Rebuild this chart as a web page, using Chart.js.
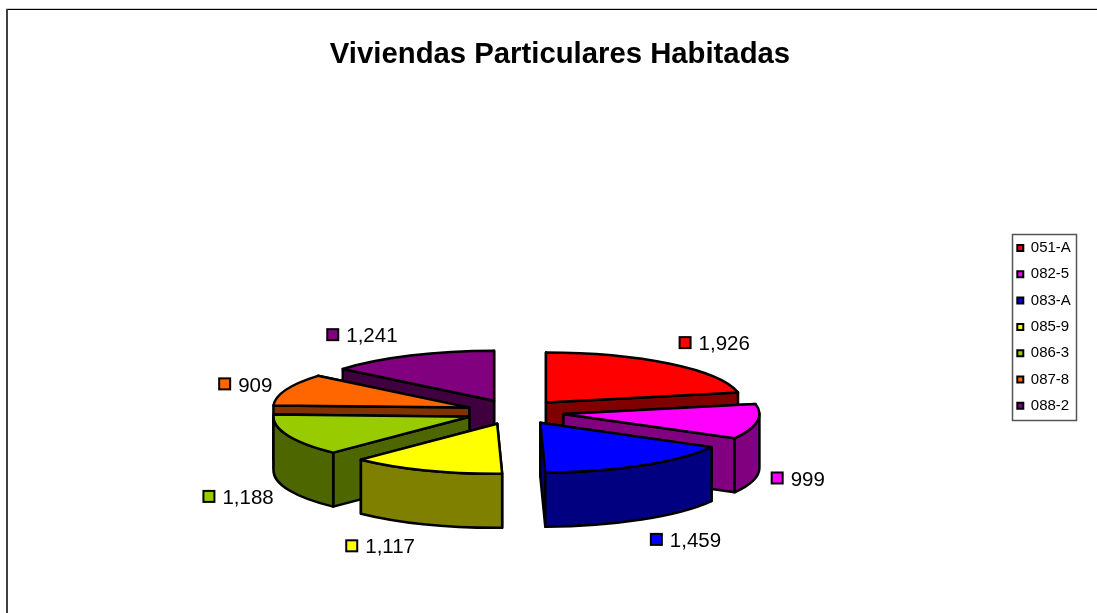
<!DOCTYPE html>
<html><head><meta charset="utf-8">
<style>html,body{margin:0;padding:0;background:#fff}canvas{display:block}</style>
<script src="https://cdn.jsdelivr.net/npm/chart.js@4"></script>
</head><body>
<canvas id="c" width="1097" height="613"></canvas>
<script>
const chartTitle = 'Viviendas Particulares Habitadas';
const categories = ['051-A','082-5','083-A','085-9','086-3','087-8','088-2'];
const values = [1926,999,1459,1117,1188,909,1241];
const topColors = ['#FF0000','#FF00FF','#0000FF','#FFFF00','#99CC00','#FF6600','#800080'];
const sideColors = ['#800000','#800080','#000080','#808000','#4D6600','#803300','#400040'];
// small per-label layout corrections, in pixels
const labelNudgeX = [0,0,1,-6,-1,-1,-7];
const labelNudgeY = [-3,0,2,2,0,3,0];

const RADIUS = 196, SQUASH = 50/196, DEPTH = 54, EXPLODE = 49;
const FONT = '"Liberation Sans", Arial, sans-serif';

function face(ctx, pts, color){
  ctx.beginPath();
  pts.forEach((p,i)=> i?ctx.lineTo(p[0],p[1]):ctx.moveTo(p[0],p[1]));
  ctx.closePath();
  ctx.fillStyle=color; ctx.fill(); ctx.stroke();
}
function geom(arc){
  const mid=(arc.startAngle+arc.endAngle)/2;
  return {mid, ax:arc.x+Math.cos(mid)*EXPLODE, ay:arc.y+Math.sin(mid)*EXPLODE*SQUASH};
}
const pie3d = {
  id:'pie3d',
  afterLayout(chart){
    const t=chart.titleBlock; t.left+=45; t.right+=45;
    const l=chart.legend; l.left=1006; l.right=1076; l.top=229.2; l.bottom=chart.height;
  },
  beforeDraw(chart){
    const ctx=chart.ctx; ctx.save();
    ctx.fillStyle='#fff'; ctx.fillRect(0,0,chart.width,chart.height);
    ctx.fillStyle='#ccc'; ctx.fillRect(6,8,chart.width-6,1);
    ctx.fillStyle='#000'; ctx.fillRect(6,9,chart.width-6,1);
    ctx.fillStyle='#404040'; ctx.fillRect(6,9,2,chart.height-9);
    ctx.strokeStyle='#555'; ctx.lineWidth=1.5;
    ctx.strokeRect(1012.5,234.5,64,186);
    ctx.restore();
  },
  beforeDatasetsDraw(chart){
    const ctx=chart.ctx, meta=chart.getDatasetMeta(0);
    const order=meta.data.map((arc,i)=>({arc,i,g:geom(arc)})).sort((a,b)=>a.g.ay-b.g.ay);
    ctx.save();
    ctx.lineWidth=2.5; ctx.strokeStyle='#000'; ctx.lineJoin='round';
    for(const {arc,i,g} of order){
      const R=arc.outerRadius, rY=R*SQUASH, side=sideColors[i];
      const rim=a=>[g.ax+Math.cos(a)*R, g.ay+Math.sin(a)*rY];
      const cuts=[arc.startAngle,arc.endAngle].map(rim).sort((p,q)=>p[1]-q[1]);
      for(const p of cuts){
        face(ctx,[[g.ax,g.ay],p,[p[0],p[1]+DEPTH],[g.ax,g.ay+DEPTH]],side);
      }
      const a0=Math.max(arc.startAngle,0), a1=Math.min(arc.endAngle,Math.PI);
      if(a1>a0){
        ctx.beginPath();
        ctx.ellipse(g.ax,g.ay,R,rY,0,a0,a1);
        ctx.ellipse(g.ax,g.ay+DEPTH,R,rY,0,a1,a0,true);
        ctx.closePath();
        ctx.fillStyle=side; ctx.fill(); ctx.stroke();
      }
      ctx.save();
      ctx.translate(g.ax,g.ay); ctx.scale(1,SQUASH); ctx.translate(-arc.x,-arc.y);
      arc.draw(ctx);
      ctx.restore();
      ctx.beginPath();
      ctx.moveTo(g.ax,g.ay);
      ctx.ellipse(g.ax,g.ay,R,rY,0,arc.startAngle,arc.endAngle);
      ctx.closePath();
      ctx.stroke();
    }
    ctx.restore();
    return false;
  },
  afterDraw(chart){
    const ctx=chart.ctx, meta=chart.getDatasetMeta(0);
    ctx.save();
    ctx.font='20.5px '+FONT; ctx.textBaseline='middle'; ctx.textAlign='left';
    const markerW=13, gap=7;
    meta.data.forEach((arc,i)=>{
      const g=geom(arc), s=Math.cos(g.mid), c=Math.sin(g.mid);
      const txt=values[i].toLocaleString('en-US');
      const w=markerW+gap+ctx.measureText(txt).width;
      const cx=g.ax+s*(arc.outerRadius*1.07)+Math.sign(s)*w/2+labelNudgeX[i];
      const cy=g.ay+c*72+(c>0?DEPTH:0)+labelNudgeY[i];
      const left=cx-w/2;
      ctx.fillStyle=topColors[i]; ctx.strokeStyle='#000'; ctx.lineWidth=2;
      ctx.fillRect(left+1,cy-6.5,markerW-2,markerW-2); ctx.strokeRect(left+1,cy-6.5,markerW-2,markerW-2);
      ctx.fillStyle='#000';
      ctx.fillText(txt,left+markerW+gap,cy+1);
    });
    ctx.restore();
  }
};
new Chart(document.getElementById('c'),{
  type:'pie',
  data:{labels:categories,datasets:[{data:values,backgroundColor:topColors,borderWidth:0,radius:RADIUS}]},
  options:{
    responsive:false,animation:false,
    layout:{padding:{left:0,top:0,bottom:0,right:67}},
    events:[],
    plugins:{
      tooltip:{enabled:false},
      title:{display:true,text:chartTitle,color:'#000',font:{family:FONT,size:29.3,weight:'bold'},padding:{top:37,bottom:139}},
      legend:{position:'chartArea',align:'start',labels:{
        color:'#000',font:{family:FONT,size:15},boxWidth:6,boxHeight:6,padding:11.3,
        generateLabels(chart){
          return Chart.overrides.pie.plugins.legend.labels.generateLabels(chart).map(l=>({...l,lineWidth:2,strokeStyle:'#000'}));
        }
      }}
    }
  },
  plugins:[pie3d]
});
</script>
</body></html>
